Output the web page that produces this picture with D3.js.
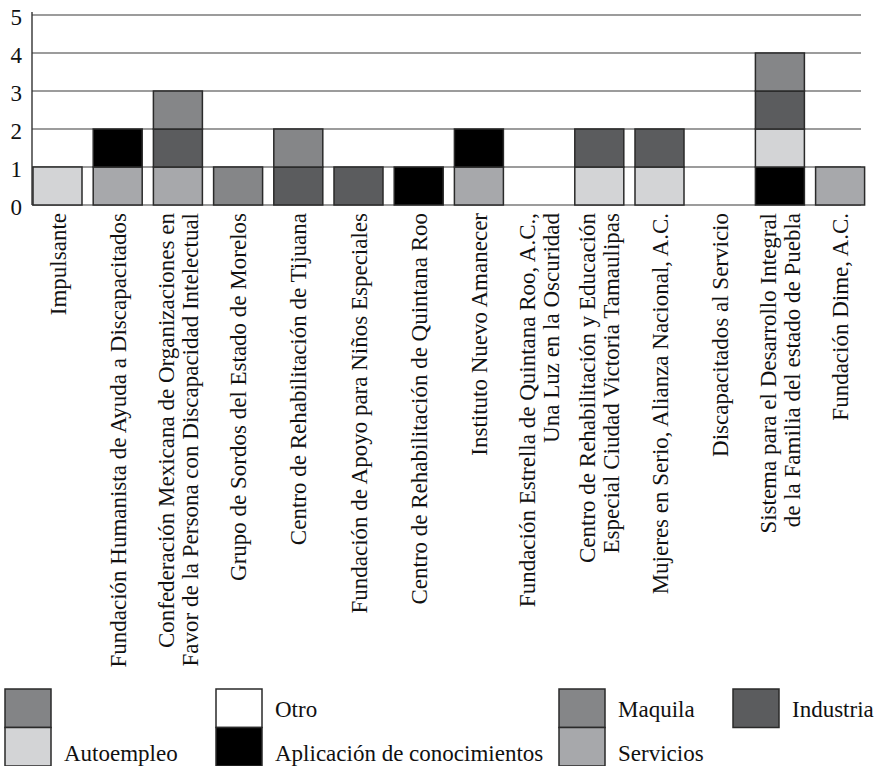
<!DOCTYPE html>
<html>
<head>
<meta charset="utf-8">
<script src="https://cdn.jsdelivr.net/npm/d3@7"></script>
<style>
  body { margin: 0; background: #fff; }
  text { font-family: "Liberation Serif", "DejaVu Serif", serif; fill: #111; }
</style>
</head>
<body>
<div class="chart"></div>
<script>
// categories (line breaks where the original label wraps)
let categories = [
  "Impulsante",
  "Fundación Humanista de Ayuda a Discapacitados",
  "Confederación Mexicana de Organizaciones en\nFavor de la Persona con Discapacidad Intelectual",
  "Grupo de Sordos del Estado de Morelos",
  "Centro de Rehabilitación de Tijuana",
  "Fundación de Apoyo para Niños Especiales",
  "Centro de Rehabilitación de Quintana Roo",
  "Instituto Nuevo Amanecer",
  "Fundación Estrella de Quintana Roo, A.C.,\nUna Luz en la Oscuridad",
  "Centro de Rehabilitación y Educación\nEspecial Ciudad Victoria Tamaulipas",
  "Mujeres en Serio, Alianza Nacional, A.C.",
  "Discapacitados al Servicio",
  "Sistema para el Desarrollo Integral\nde la Familia del estado de Puebla",
  "Fundación Dime, A.C."
];

// series values, one per category
let servicios   = [0, 1, 1, 0, 0, 0, 0, 1, 0, 0, 0, 0, 0, 1];
let aplicacion  = [0, 1, 0, 0, 0, 0, 1, 1, 0, 0, 0, 0, 1, 0];
let autoempleo  = [1, 0, 0, 0, 0, 0, 0, 0, 0, 1, 1, 0, 1, 0];
let industria   = [0, 0, 1, 0, 1, 1, 0, 0, 0, 1, 1, 0, 1, 0];
let maquila     = [0, 0, 1, 1, 1, 0, 0, 0, 0, 0, 0, 0, 1, 0];
let otro        = [0, 0, 0, 0, 0, 0, 0, 0, 0, 0, 0, 0, 0, 0];
let sinNombre   = [0, 0, 0, 0, 0, 0, 0, 0, 0, 0, 0, 0, 0, 0];

let yTicks = [0, 1, 2, 3, 4, 5];

// stacking order, bottom to top
let series = [
  {key: "servicios",  name: "Servicios",                  values: servicios,  color: "#a7a8ab"},
  {key: "aplicacion", name: "Aplicación de conocimientos", values: aplicacion, color: "#000000"},
  {key: "autoempleo", name: "Autoempleo",                 values: autoempleo, color: "#d3d4d6"},
  {key: "industria",  name: "Industria",                  values: industria,  color: "#5b5c5e"},
  {key: "maquila",    name: "Maquila",                    values: maquila,    color: "#858688"},
  {key: "otro",       name: "Otro",                       values: otro,       color: "#ffffff"},
  {key: "sinNombre",  name: "",                           values: sinNombre,  color: "#838486"}
];

// legend order as in the original (two rows)
let legendOrder = ["sinNombre", "otro", "maquila", "industria", "autoempleo", "aplicacion", "servicios"];

let W = 879, H = 766;
let x0 = 33, x1 = 864.6, yTop = 15, yBase = 205, gridRight = 861;

let svg = d3.select(".chart").append("svg")
    .attr("width", W)
    .attr("height", H);

let table = categories.map(function(c, i) {
  let row = {cat: c};
  series.forEach(function(s) { row[s.key] = s.values[i]; });
  return row;
});

let stacked = d3.stack().keys(series.map(s => s.key))(table);

let xScale = d3.scaleBand()
    .domain(categories)
    .range([x0, x1])
    .paddingInner(0.186)
    .paddingOuter(0);

let yScale = d3.scaleLinear()
    .domain([0, 5])
    .range([yBase, yTop]);

// gridlines
svg.append("g")
  .selectAll("line")
  .data(yTicks)
  .join("line")
    .attr("x1", 32)
    .attr("x2", gridRight)
    .attr("y1", d => yScale(d))
    .attr("y2", d => yScale(d))
    .attr("stroke", "#3a3a3a")
    .attr("stroke-width", 1.1);

// y axis
let yAxis = svg.append("g")
    .attr("transform", "translate(32,0)")
    .call(d3.axisLeft(yScale).tickValues(yTicks).tickSize(0).tickPadding(10).tickFormat(d3.format("d")));
yAxis.select(".domain")
    .attr("d", "M0," + (yTop - 3) + "V" + yBase)
    .attr("stroke", "#333")
    .attr("stroke-width", 1.4);
yAxis.selectAll("text")
    .attr("font-size", 23)
    .attr("font-family", "Liberation Serif, serif")
    .attr("fill", "#111")
    .attr("dy", "0.42em");

// bars
let colorOf = {};
series.forEach(s => colorOf[s.key] = s.color);

svg.append("g")
  .selectAll("g")
  .data(stacked)
  .join("g")
    .attr("fill", d => colorOf[d.key])
  .selectAll("rect")
  .data(d => d.filter(p => p[1] > p[0]))
  .join("rect")
    .attr("x", d => xScale(d.data.cat))
    .attr("y", d => yScale(d[1]))
    .attr("width", xScale.bandwidth())
    .attr("height", d => yScale(d[0]) - yScale(d[1]))
    .attr("stroke", "#2a2a2a")
    .attr("stroke-width", 1.5);

// rotated category labels
let lineGap = 24;
let labels = svg.append("g")
  .selectAll("text")
  .data(categories)
  .join("text")
    .attr("transform", d => "translate(" + (xScale(d) + xScale.bandwidth() / 2) + "," + (yBase + 8) + ") rotate(-90)")
    .attr("text-anchor", "end")
    .attr("font-size", 23);

labels.each(function(d) {
  let lines = d.split("\n");
  let t = d3.select(this);
  lines.forEach(function(l, i) {
    t.append("tspan")
      .attr("x", 0)
      .attr("y", (i - (lines.length - 1) / 2) * lineGap)
      .attr("dy", "0.35em")
      .text(l);
  });
});

// legend
let legendCols = [5, 216, 559, 733];
let legendRows = [689, 727.5];
let boxW = 46, boxH = 38.5;
let textBase = [717, 761];
let byKey = {};
series.forEach(s => byKey[s.key] = s);

let legend = svg.append("g")
  .selectAll("g")
  .data(legendOrder)
  .join("g")
    .attr("transform", function(k, i) {
      return "translate(" + legendCols[i % 4] + "," + legendRows[Math.floor(i / 4)] + ")";
    });

legend.append("rect")
    .attr("width", boxW)
    .attr("height", boxH)
    .attr("fill", k => byKey[k].color)
    .attr("stroke", "#2a2a2a")
    .attr("stroke-width", 1.5);

legend.append("text")
    .attr("x", boxW + 13)
    .attr("y", (k, i) => textBase[Math.floor(i / 4)] - legendRows[Math.floor(i / 4)])
    .attr("font-size", 23)
    .text(k => byKey[k].name);
</script>
</body>
</html>
